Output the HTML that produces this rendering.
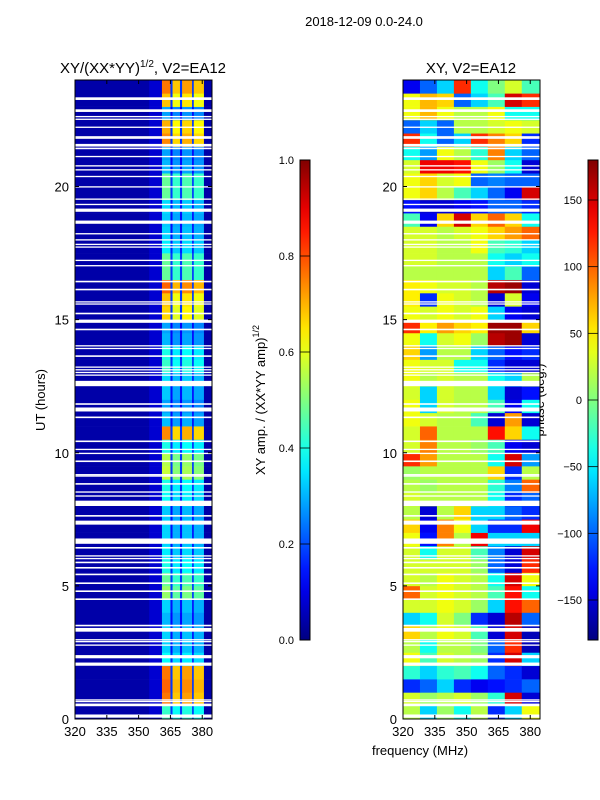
<!DOCTYPE html>
<html><head><meta charset="utf-8">
<style>
body{margin:0;background:#fff;}
svg{display:block;font-family:"Liberation Sans","DejaVu Sans",sans-serif;}
</style></head>
<body>
<svg id="fig" width="600" height="800" viewBox="0 0 600 800">
<text x="364" y="26" font-size="13" text-anchor="middle">2018-12-09 0.0-24.0</text>
<text x="143" y="73" font-size="15" text-anchor="middle">XY/(XX*YY)<tspan font-size="10" dy="-6">1/2</tspan><tspan dy="6">, V2=EA12</tspan></text>
<text x="471" y="73" font-size="15" text-anchor="middle">XY, V2=EA12</text>
<text transform="translate(45,400) rotate(-90)" font-size="13" text-anchor="middle">UT (hours)</text>
<text x="420" y="755" font-size="13" text-anchor="middle">frequency (MHz)</text>
<text transform="translate(265,400) rotate(-90)" font-size="13" text-anchor="middle">XY amp. / (XX*YY amp)<tspan font-size="9" dy="-6">1/2</tspan></text>
<text transform="translate(544,400) rotate(-90)" font-size="13" text-anchor="middle">phase (deg.)</text>
<g id="left"></g>
<g id="right"></g>
<g id="axes"></g>
<g id="cbars"></g>
</svg>
<script>
// ---- data ----
const timeStep = 0.5;
const bandNames = ["band-361","band-366","band-371","band-376"];
const bandMult = [0.95, 0.85, 0.9, 0.85];
// normalized amplitude of bright band per half-hour row (0h..24h)
const ampRows = [0.45,0.8,0.82,0.8,0.4,0.35,0.35,0.32,0.35,0.55,0.5,0.42,0.38,0.35,0.35,0.34,0.4,0.42,0.6,0.58,0.42,0.78,0.33,0.3,0.34,0.36,0.45,0.42,0.32,0.3,0.7,0.72,0.82,0.5,0.5,0.38,0.35,0.34,0.36,0.5,0.5,0.32,0.3,0.78,0.74,0.3,0.72,0.8];
const ampBackground = 0.04;
const ampEdge = 0.08;
const ampSep = 0.18;
// phase (deg) per half-hour row, 8 frequency columns 320..384.6 MHz
const phaseCols = [320,328,336,344,352,360,368,376,384.6];
const phaseRows = [
[20,-60,10,-40,20,-120,-60,40],[30,10,20,30,10,-30,150,-150],[-120,-100,-60,-120,-140,-130,-120,-100],[-30,-60,-30,-20,-40,-100,-120,-150],
[40,-20,30,20,10,-120,150,-60],[20,-40,20,20,0,-100,120,-160],[60,20,40,30,-20,-150,150,-160],[-60,-40,30,0,-120,-150,160,-100],
[30,30,40,30,10,-60,130,100],[100,30,40,30,20,-20,130,-40],[30,20,40,30,20,-40,150,40],[30,30,30,30,10,-100,-150,120],
[30,-40,30,30,-20,-90,-150,150],[40,-130,90,20,140,-60,-60,-60],[60,-140,90,40,-60,-120,-120,140],[20,-150,20,60,-60,-60,-100,-120],
[30,20,20,20,20,-40,-120,-100],[20,10,20,20,20,-30,-90,100],[10,20,20,20,20,60,-120,20],[120,80,20,20,20,-40,150,-80],
[30,90,20,20,10,-20,-140,-150],[30,100,20,20,20,130,60,-40],[40,30,20,20,-20,-150,80,-150],[40,-60,30,20,20,-20,-140,-40],
[30,-60,30,20,20,-60,-150,-130],[40,20,30,20,20,-40,-60,20],[40,30,30,-40,-40,-120,-150,-150],[60,-80,20,20,-60,-100,-130,-120],
[40,-40,30,40,10,160,170,-150],[120,50,80,60,50,170,170,60],[40,30,40,30,40,-60,-140,-150],[50,-120,40,30,20,-150,30,-140],
[50,40,30,30,20,160,170,-150],[20,20,20,20,20,-60,-20,-100],[30,30,20,20,20,-40,-60,-40],[30,30,20,20,40,-20,-30,-60],
[30,30,20,30,40,60,80,100],[-20,-140,60,150,60,100,60,-40],[-130,-150,-150,-140,-130,-100,-100,-120],[40,60,20,-20,-60,-100,-140,150],
[40,60,30,40,-100,-90,-100,-100],[30,140,140,130,40,10,-40,-150],[-40,-80,40,20,-30,90,-60,-100],[120,-40,-100,-60,120,90,60,-120],
[-100,-60,-100,20,20,30,40,30],[40,70,40,20,20,40,-40,-40],[40,70,60,-100,-60,-20,150,120],[-140,-100,-60,120,-40,0,30,-20]];
// flagged (blank) times: start hour, duration hours
const gapStart = [0.05,0.48,0.64,0.7,2.0,2.28,2.75,2.88,2.95,3.28,3.48,4.47,4.77,5.07,5.4,5.65,5.85,6.0,6.1,6.4,6.58,7.3,7.6,8.0,8.35,8.5,8.8,9.1,9.15,9.65,9.95,10.1,10.4,11.3,11.55,11.8,12.5,12.9,13.0,13.1,13.2,13.6,13.9,14.0,14.6,14.88,15.2,15.57,15.65,16.1,16.4,17.0,17.2,17.7,17.8,17.97,18.2,18.6,19.05,19.3,19.5,19.96,20.35,20.6,20.75,21.1,21.4,21.5,21.8,21.85,22.2,22.5,22.6,22.8,23.25];
const gapLen   = [0.12,0.1,0.04,0.04,0.12,0.12,0.05,0.05,0.05,0.14,0.06,0.06,0.06,0.06,0.06,0.06,0.06,0.05,0.05,0.06,0.2,0.15,0.06,0.2,0.05,0.05,0.06,0.05,0.05,0.06,0.05,0.05,0.06,0.06,0.15,0.06,0.2,0.04,0.04,0.04,0.04,0.06,0.04,0.04,0.06,0.12,0.06,0.04,0.04,0.06,0.06,0.05,0.05,0.05,0.05,0.05,0.05,0.12,0.12,0.05,0.05,0.05,0.05,0.05,0.05,0.05,0.06,0.1,0.04,0.04,0.05,0.05,0.05,0.1,0.1];
const yTicks = [0,5,10,15,20];
const xTicks = [320,335,350,365,380];
const ampTicks = [0.0,0.2,0.4,0.6,0.8,1.0];
const phaseTicks = [-150,-100,-50,0,50,100,150];

// ---- scales ----
const NS="http://www.w3.org/2000/svg";
const PY0=719, PY1=80, FMIN=320, FMAX=384.6;
const panels=[{x0:75,x1:212},{x0:403,x1:540}];
function yS(h){return PY0-(h/24)*(PY0-PY1);}
function xS(p,f){const P=panels[p];return P.x0+(f-FMIN)/(FMAX-FMIN)*(P.x1-P.x0);}
function clip(v){return Math.max(0,Math.min(1,v));}
function jet(v){v=clip(v);const r=clip(1.5-Math.abs(4*v-3)),g=clip(1.5-Math.abs(4*v-2)),b=clip(1.5-Math.abs(4*v-1));
 return `rgb(${Math.round(r*255)},${Math.round(g*255)},${Math.round(b*255)})`;}
function mk(tag,attrs,parent){const e=document.createElementNS(NS,tag);for(const k in attrs)e.setAttribute(k,attrs[k]);parent.appendChild(e);return e;}

// left panel
const L=document.getElementById('left');
const segs=[[320,355,'bg'],[355,361,'edge'],[361,365,0],[365,366,'sep'],[366,369.5,1],[369.5,370.5,'sep'],[370.5,375.2,2],[375.2,376,'sep'],[376,380.8,3],[380.8,384.6,'bg']];
ampRows.forEach((a,i)=>{
 const t0=i*timeStep,t1=t0+timeStep;
 segs.forEach(s=>{
  let v;
  if(s[2]==='bg')v=ampBackground;else if(s[2]==='edge')v=ampEdge;else if(s[2]==='sep')v=Math.min(a*0.4,ampSep);else v=a*bandMult[s[2]];
  const x=xS(0,s[0]),w=xS(0,s[1])-x+0.3;
  const r=mk('rect',{x:x,y:yS(t1),width:w,height:yS(t0)-yS(t1)+0.3,fill:jet(v)},L);
  
  
 });
});
// right panel
const R=document.getElementById('right');
phaseRows.forEach((row,i)=>{
 const t0=i*timeStep,t1=t0+timeStep;
 row.forEach((ph,j)=>{
  const x=xS(1,phaseCols[j]),w=xS(1,phaseCols[j+1])-x+0.3;
  const r=mk('rect',{x:x,y:yS(t1),width:w,height:yS(t0)-yS(t1)+0.3,fill:jet((ph+180)/360)},R);
  
  
 });
});
// gaps
[L,R].forEach((g,p)=>{
 gapStart.forEach((s,k)=>{
  const r=mk('rect',{x:panels[p].x0,y:yS(s+gapLen[k]),width:panels[p].x1-panels[p].x0,height:Math.max(1.3,yS(s)-yS(s+gapLen[k])),fill:'#fff'},g);
  
  
 });
});
// axes
const A=document.getElementById('axes');
panels.forEach((P,p)=>{
 const fr=mk('rect',{x:P.x0,y:PY1,width:P.x1-P.x0,height:PY0-PY1,fill:'none',stroke:'#000','stroke-width':1},A);
 
 
 yTicks.forEach(t=>{
  const y=yS(t);
  mk('line',{x1:P.x0,x2:P.x0+4,y1:y,y2:y,stroke:'#000'},A);
  mk('line',{x1:P.x1,x2:P.x1-4,y1:y,y2:y,stroke:'#000'},A);
  const tx=mk('text',{x:P.x0-6,y:y+5,'font-size':13,'text-anchor':'end'},A);
  tx.textContent=t;
  
  
 });
 xTicks.forEach(t=>{
  const x=xS(p,t);
  mk('line',{x1:x,x2:x,y1:PY0,y2:PY0-4,stroke:'#000'},A);
  mk('line',{x1:x,x2:x,y1:PY1,y2:PY1+4,stroke:'#000'},A);
  const tx=mk('text',{x:x,y:PY0+17,'font-size':13,'text-anchor':'middle'},A);
  tx.textContent=t;
  
  
 });
});
// colorbars
const C=document.getElementById('cbars');
const defs=mk('defs',{},C);
const gr=mk('linearGradient',{id:'jetg',x1:0,y1:1,x2:0,y2:0},defs);
for(let i=0;i<=20;i++)mk('stop',{offset:i/20,'stop-color':jet(i/20)},gr);
const CB0=640,CB1=160;
[{x:300,ticks:ampTicks,min:0,max:1,fmt:v=>v.toFixed(1),name:'amp-colorbar'},{x:588,ticks:phaseTicks,min:-180,max:180,fmt:v=>String(v).replace('-','\u2212'),name:'phase-colorbar'}].forEach(cb=>{
 const r=mk('rect',{x:cb.x,y:CB1,width:10,height:CB0-CB1,fill:'url(#jetg)',stroke:'#000','stroke-width':1},C);
 
 
 cb.ticks.forEach(t=>{
  const y=CB0-(t-cb.min)/(cb.max-cb.min)*(CB0-CB1);
  mk('line',{x1:cb.x,x2:cb.x+10,y1:y,y2:y,stroke:'#000','stroke-width':0.8},C);
  const tx=mk('text',{x:cb.x-6,y:y+4,'font-size':11,'text-anchor':'end'},C);
  tx.textContent=cb.fmt(t);
  
  
 });
});
</script>
</body></html>
